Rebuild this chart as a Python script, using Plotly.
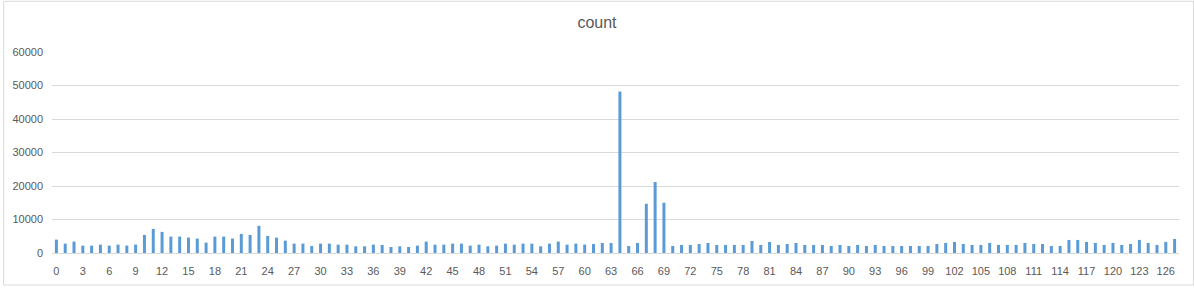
import plotly.graph_objects as go

categories = [str(i) for i in range(128)]
counts = [
    4000, 2800, 3400, 2200, 2200, 2500, 2200, 2500, 2200, 2500,
    5400, 7200, 6300, 4900, 4900, 4600, 4300, 3100, 4900, 4900,
    4300, 5700, 5400, 8100, 5100, 4600, 3700, 2800, 2800, 2100,
    2800, 2800, 2500, 2500, 2000, 2000, 2500, 2400, 1800, 2000,
    1800, 2200, 3400, 2500, 2500, 2800, 2800, 2200, 2500, 2000,
    2200, 2800, 2500, 2800, 2800, 2000, 2800, 3400, 2500, 2800,
    2500, 2700, 3000, 3000, 48200, 2100, 3000, 14700, 21200, 15000,
    2100, 2400, 2400, 2700, 3000, 2400, 2400, 2400, 2400, 3600,
    2400, 3300, 2400, 2700, 3000, 2400, 2400, 2400, 2100, 2400,
    2100, 2400, 2100, 2400, 2100, 2100, 2100, 2100, 2100, 2100,
    2700, 3000, 3300, 2700, 2400, 2400, 3000, 2400, 2400, 2400,
    3000, 2700, 2700, 2100, 2100, 3900, 3900, 3300, 3000, 2400,
    3000, 2400, 2700, 3900, 3000, 2400, 3300, 4200,
]
tick_labels = categories[::3]
y_ticks = [0, 10000, 20000, 30000, 40000, 50000, 60000]

W, H = 1194, 289
ml, mr, mt, mb = 49, 15, 52, 33
pw, ph = W - ml - mr, H - mt - mb

fig = go.Figure(go.Bar(x=categories, y=counts, marker_color="#5B9BD5",
                       marker_line_width=0))

font = dict(family="Liberation Sans, Arial, sans-serif", size=11, color="#595959")
fig.update_layout(
    width=W, height=H,
    margin=dict(l=ml, r=mr, t=mt, b=mb, pad=0),
    paper_bgcolor="white", plot_bgcolor="white",
    bargap=0.66,
    showlegend=False,
    title=dict(text="count", x=0.5, xanchor="center", y=1 - 22 / H, yanchor="middle",
               font=dict(family="Liberation Sans, Arial, sans-serif", size=16, color="#595959")),
    font=font,
    xaxis=dict(type="category", tickmode="array", tickvals=tick_labels, ticktext=tick_labels,
               showgrid=False, showline=True, linecolor="#D9D9D9", linewidth=1,
               ticks="", tickangle=0, ticklabelstandoff=8, fixedrange=True,
               range=[-0.5, 127.5]),
    yaxis=dict(range=[0, 60000], tickvals=y_ticks, showgrid=True, gridcolor="#D9D9D9",
               gridwidth=1, zeroline=False, showline=False, ticks="",
               ticklabelstandoff=8, tickformat="d"),
    shapes=[dict(type="rect", xref="paper", yref="paper",
                 x0=-(ml - 0.5) / pw, x1=1 + (mr - 0.5) / pw,
                 y0=-(mb - 0.5) / ph, y1=1 + (mt - 0.5) / ph,
                 line=dict(color="#D9D9D9", width=1), layer="below")],
)

fig.write_html("out.html")
